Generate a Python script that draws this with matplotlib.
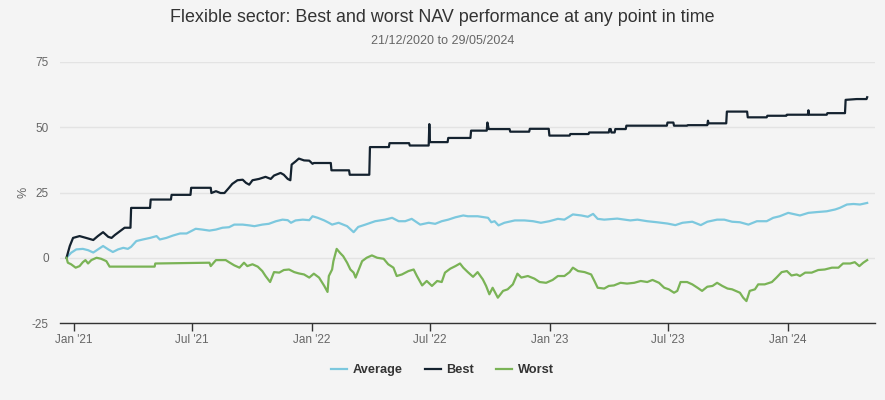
import matplotlib
matplotlib.use("Agg")
import matplotlib.pyplot as plt
import pandas as pd

plt.rcParams['font.family'] = ['Liberation Sans', 'DejaVu Sans']
plt.rcParams['axes.unicode_minus'] = False

title = "Flexible sector: Best and worst NAV performance at any point in time"
subtitle = "21/12/2020 to 29/05/2024"
series_names = ["Average", "Best", "Worst"]
base_date = "2021-01-01"   # day offsets below are counted from this date

best_day = [-11, -6, -1, 9, 19, 30, 37, 45, 53, 58, 63, 71, 78, 87, 88, 117, 118, 149, 150, 179, 180,
            210, 211, 218, 225, 231, 238, 243, 251, 259, 264, 269, 274, 284, 294, 302, 307, 317, 322,
            328, 332, 334, 340, 345, 353, 361, 366, 368, 394, 395, 422, 423, 453, 454, 483, 484, 514,
            515, 544, 545, 546, 573, 574, 608, 609, 633, 634, 636, 668, 669, 698, 699, 728, 729, 760,
            761, 789, 790, 820, 821, 823, 824, 829, 830, 846, 847, 909, 910, 919, 920, 940, 941, 971,
            972, 973, 1000, 1001, 1032, 1033, 1062, 1063, 1092, 1093, 1125, 1126, 1127, 1154, 1155,
            1182, 1183, 1200, 1215, 1216]
best_val = [0.0, 4.5, 7.6, 8.3, 7.6, 6.8, 8.3, 9.8, 8.0, 7.6, 8.7, 10.2, 11.5, 11.5, 19.1, 19.1, 22.3,
            22.3, 24.1, 24.1, 26.8, 26.8, 24.8, 25.5, 24.8, 24.8, 26.8, 28.3, 29.7, 29.9, 28.7, 28.0,
            29.7, 30.2, 31.0, 30.2, 31.5, 32.5, 31.8, 30.2, 29.7, 35.7, 36.9, 38.0, 37.3, 37.2, 36.0,
            36.3, 36.3, 33.5, 33.5, 31.8, 31.8, 42.4, 42.4, 43.9, 43.9, 43.0, 43.0, 51.2, 44.3, 44.3,
            45.9, 45.9, 48.7, 48.7, 51.8, 49.3, 49.3, 48.3, 48.3, 49.4, 49.4, 46.8, 46.8, 47.4, 47.4,
            48.0, 48.0, 49.3, 49.3, 48.0, 48.0, 49.3, 49.3, 50.6, 50.6, 51.8, 51.8, 50.6, 50.6, 50.8,
            50.8, 52.5, 51.5, 51.5, 56.0, 56.0, 53.8, 53.8, 54.4, 54.4, 54.8, 54.8, 56.5, 54.8, 54.8,
            55.4, 55.4, 60.5, 60.8, 60.8, 61.5]

avg_day = [-11, -4, 4, 14, 22, 30, 45, 53, 60, 68, 76, 83, 88, 96, 106, 117, 127, 132, 142, 152, 163,
           173, 180, 187, 197, 208, 218, 228, 238, 246, 259, 269, 277, 289, 299, 310, 320, 328, 333,
           340, 351, 361, 366, 374, 384, 391, 396, 406, 419, 429, 436, 447, 462, 477, 488, 498, 508,
           518, 531, 544, 554, 564, 574, 585, 597, 604, 619, 635, 640, 645, 651, 660, 676, 691, 704,
           716, 729, 742, 752, 765, 778, 788, 796, 803, 813, 833, 853, 864, 879, 894, 910, 922, 933,
           948, 961, 971, 986, 997, 1009, 1021, 1034, 1047, 1062, 1072, 1082, 1095, 1113, 1126, 1139,
           1154, 1167, 1174, 1185, 1195, 1205, 1216]
avg_val = [0.0, 1.9, 3.2, 3.4, 2.9, 2.0, 4.5, 3.2, 2.2, 3.2, 3.8, 3.4, 4.2, 6.4, 7.0, 7.6, 8.3, 7.0,
           7.6, 8.5, 9.3, 9.3, 10.2, 11.1, 10.8, 10.4, 10.8, 11.5, 11.7, 12.7, 12.7, 12.4, 12.1, 12.7,
           13.0, 14.0, 14.6, 14.4, 13.4, 14.3, 14.6, 14.4, 15.9, 15.3, 14.3, 13.4, 12.7, 13.4, 12.1,
           9.8, 11.8, 12.7, 14.0, 14.6, 15.3, 14.0, 14.0, 14.9, 12.7, 13.4, 13.0, 14.0, 14.6, 15.5,
           16.2, 15.9, 15.9, 15.3, 13.6, 14.0, 12.4, 13.4, 14.3, 14.3, 14.0, 13.4, 14.0, 14.9, 14.6,
           16.6, 16.2, 15.7, 16.8, 14.9, 14.6, 15.0, 14.3, 14.6, 14.0, 13.6, 13.1, 12.5, 13.4, 13.8,
           12.5, 13.8, 14.6, 14.6, 13.8, 13.6, 12.7, 14.0, 14.0, 15.3, 15.9, 17.2, 16.2, 17.2, 17.5,
           17.8, 18.5, 19.1, 20.4, 20.6, 20.4, 21.0]

worst_day = [-11, -9, -4, 3, 9, 14, 18, 22, 27, 35, 42, 50, 55, 124, 125, 187, 208, 210, 218, 233,
             238, 246, 254, 261, 266, 274, 282, 289, 294, 301, 307, 315, 322, 330, 338, 345, 353, 361,
             368, 376, 384, 389, 391, 396, 398, 403, 408, 413, 419, 424, 429, 432, 436, 442, 449, 457,
             465, 475, 482, 490, 495, 503, 513, 521, 526, 534, 541, 549, 557, 564, 569, 577, 585, 592,
             597, 604, 612, 619, 627, 632, 637, 642, 650, 658, 665, 673, 680, 686, 696, 706, 714, 724,
             734, 742, 752, 760, 765, 773, 783, 793, 798, 803, 813, 820, 828, 838, 848, 859, 869, 879,
             887, 897, 905, 912, 920, 925, 930, 940, 948, 956, 963, 971, 979, 986, 994, 1002, 1009,
             1021, 1026, 1031, 1036, 1044, 1049, 1059, 1070, 1077, 1085, 1093, 1100, 1108, 1113, 1121,
             1131, 1141, 1151, 1162, 1172, 1179, 1190, 1197, 1204, 1210, 1216]
worst_val = [0.0, -1.9, -2.5, -3.8, -3.2, -1.7, -0.9, -2.2, -0.9, 0.0, -0.4, -1.3, -3.4, -3.4, -2.2,
             -2.0, -1.9, -3.2, -0.9, -0.9, -1.7, -2.9, -3.8, -1.9, -3.2, -2.5, -3.4, -5.1, -7.0, -9.3,
             -5.5, -5.7, -4.7, -4.5, -5.5, -6.0, -6.4, -7.6, -6.1, -7.6, -10.8, -13.1, -7.0, -4.5,
             -1.3, 3.4, 1.9, 0.6, -1.9, -4.5, -5.7, -7.6, -5.1, -1.3, 0.0, 0.9, 0.0, -0.4, -2.5, -3.8,
             -7.0, -6.4, -5.1, -4.5, -7.0, -10.6, -8.9, -10.8, -8.9, -9.3, -5.7, -4.2, -3.2, -2.2,
             -3.8, -5.5, -7.3, -5.5, -8.3, -10.8, -14.0, -11.5, -15.3, -12.7, -12.1, -10.2, -6.1,
             -7.6, -7.0, -8.0, -9.3, -9.6, -8.5, -7.0, -7.0, -5.5, -3.8, -5.1, -5.5, -6.4, -8.9,
             -11.5, -11.8, -10.8, -10.6, -9.6, -9.9, -9.6, -8.9, -9.3, -8.5, -9.6, -11.5, -12.1,
             -13.4, -12.7, -9.3, -9.3, -10.2, -11.5, -12.7, -11.1, -10.8, -9.6, -10.8, -11.8, -12.1,
             -13.4, -15.3, -16.6, -12.7, -12.1, -10.2, -10.2, -9.3, -7.6, -5.5, -5.1, -6.8, -6.4,
             -7.0, -5.7, -5.7, -4.7, -4.5, -3.8, -3.8, -2.2, -2.2, -1.7, -3.2, -1.9, -0.9]

y_ticks = [-25, 0, 25, 50, 75]
x_tick_dates = ["2021-01-01", "2021-07-01", "2022-01-01", "2022-07-01",
                "2023-01-01", "2023-07-01", "2024-01-01"]
x_tick_labels = ["Jan '21", "Jul '21", "Jan '22", "Jul '22", "Jan '23", "Jul '23", "Jan '24"]
x_range = ["2020-12-11", "2024-05-13"]

colors = {"Average": "#7cc8de", "Best": "#14222f", "Worst": "#7ab356"}


def to_dates(days):
    return pd.Timestamp(base_date) + pd.to_timedelta(days, unit="D")


bg = "#f4f4f4"
fig = plt.figure(figsize=(8.85, 4.0), dpi=100, facecolor=bg)
ax = fig.add_axes([60 / 885, 1 - 323 / 400, 815 / 885, 261 / 400], facecolor=bg)

series = {"Average": (avg_day, avg_val), "Best": (best_day, best_val), "Worst": (worst_day, worst_val)}
for name in series_names:
    d, v = series[name]
    ax.plot(to_dates(d), v, color=colors[name], lw=1.6, label=name, solid_joinstyle="round")

ax.set_ylim(-25, 75)
ax.set_yticks(y_ticks)
ax.set_xlim(pd.Timestamp(x_range[0]), pd.Timestamp(x_range[1]))
ax.set_xticks(pd.to_datetime(x_tick_dates))
ax.set_xticklabels(x_tick_labels)

ax.grid(axis="y", color="#e3e3e3", lw=1)
ax.set_axisbelow(True)
for s in ["top", "right", "left"]:
    ax.spines[s].set_visible(False)
ax.spines["bottom"].set_color("#333333")
ax.spines["bottom"].set_linewidth(1.0)
ax.tick_params(axis="y", length=0, labelsize=8.5, labelcolor="#666666", pad=8)
ax.tick_params(axis="x", length=6, width=1, color="#333333", labelsize=8.5,
               labelcolor="#666666", pad=2)
ax.set_ylabel("%", color="#666666", fontsize=9)
ax.yaxis.set_label_coords(-0.038, 0.5)

fig.text(0.5, 1 - 17 / 400, title, ha="center", va="center", fontsize=12.9, color="#333333")
fig.text(0.5, 1 - 41 / 400, subtitle, ha="center", va="center", fontsize=9, color="#666666")

leg = fig.legend(*ax.get_legend_handles_labels(), loc="center", bbox_to_anchor=(0.5, 1 - 370 / 400),
                 ncol=3, frameon=False, handlelength=1.25, handletextpad=0.45, columnspacing=1.7,
                 prop={"weight": "bold", "size": 9.2})
for t in leg.get_texts():
    t.set_color("#333333")

fig.savefig("out.png", dpi=100, facecolor=bg)
